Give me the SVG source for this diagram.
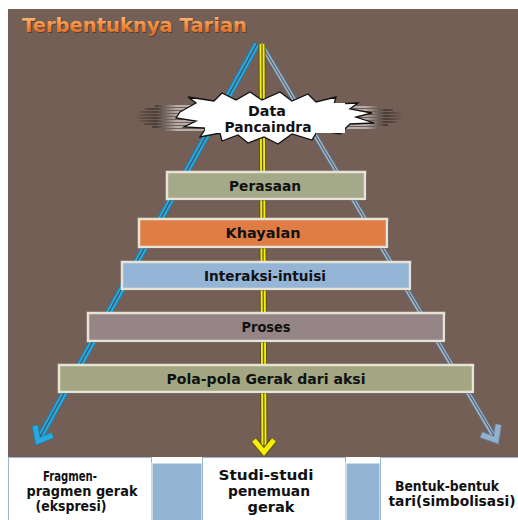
<svg xmlns="http://www.w3.org/2000/svg" width="518" height="520" viewBox="0 0 518 520">
<defs>
<style>
.lbl{font-family:"DejaVu Sans","Liberation Sans",sans-serif;font-weight:bold;font-size:14px;fill:#111;text-anchor:middle}
.box{stroke:#e6e2d6;stroke-width:2.5}
.shadow{fill:#000;opacity:0.3}
.wbox{fill:#fff;stroke:#9fb4cc;stroke-width:1}
.bbox{fill:#94b4d4;stroke:#fff;stroke-width:1}
</style>
<linearGradient id="tg" x1="0" y1="0" x2="0" y2="1">
<stop offset="0" stop-color="#fcc48c"/>
<stop offset="0.5" stop-color="#f28e40"/>
<stop offset="1" stop-color="#d9641c"/>
</linearGradient>
<linearGradient id="sl" gradientUnits="userSpaceOnUse" x1="135" y1="0" x2="205" y2="0">
<stop offset="0" stop-color="#000" stop-opacity="0"/>
<stop offset="0.3" stop-color="#111" stop-opacity="0.9"/>
<stop offset="0.6" stop-color="#fff"/>
<stop offset="1" stop-color="#fff"/>
</linearGradient>
<linearGradient id="sr" gradientUnits="userSpaceOnUse" x1="340" y1="0" x2="403" y2="0">
<stop offset="0" stop-color="#fff"/>
<stop offset="0.4" stop-color="#fff"/>
<stop offset="0.72" stop-color="#111" stop-opacity="0.9"/>
<stop offset="1" stop-color="#000" stop-opacity="0"/>
</linearGradient>
<marker id="ab" markerUnits="userSpaceOnUse" markerWidth="40" markerHeight="40" refX="0" refY="0" orient="auto" overflow="visible">
<path d="M-12,-10 L0,0 L-12,10" fill="none" stroke="#1f7fae" stroke-width="7"/>
<path d="M-12,-10 L0,0 L-12,10" fill="none" stroke="#2aa9de" stroke-width="5"/>
</marker>
<marker id="ay" markerUnits="userSpaceOnUse" markerWidth="40" markerHeight="40" refX="0" refY="0" orient="auto" overflow="visible">
<path d="M-12,-10 L0,0 L-12,10" fill="none" stroke="#5a5020" stroke-width="7"/>
<path d="M-12,-10 L0,0 L-12,10" fill="none" stroke="#f6f000" stroke-width="5"/>
</marker>
<marker id="ag" markerUnits="userSpaceOnUse" markerWidth="40" markerHeight="40" refX="0" refY="0" orient="auto" overflow="visible">
<path d="M-12,-10 L0,0 L-12,10" fill="none" stroke="#6f88a4" stroke-width="7"/>
<path d="M-12,-10 L0,0 L-12,10" fill="none" stroke="#93b0cc" stroke-width="5"/>
</marker>
</defs>
<rect x="0" y="0" width="518" height="520" fill="#fff"/>
<rect x="8" y="9" width="510" height="448" fill="#735f55"/>
<g id="title">
<text x="23" y="33" font-family="DejaVu Sans, sans-serif" font-weight="bold" font-size="19" fill="#3a2518" opacity="0.55" textLength="225" lengthAdjust="spacingAndGlyphs">Terbentuknya Tarian</text>
<text x="22" y="32" font-family="DejaVu Sans, sans-serif" font-weight="bold" font-size="19" fill="url(#tg)" textLength="225" lengthAdjust="spacingAndGlyphs">Terbentuknya Tarian</text>
</g>
<g id="connectors">
<g>
<line x1="257" y1="44" x2="38" y2="441" stroke="#1f7fae" stroke-width="7"/>
<line x1="257" y1="44" x2="38" y2="441" stroke="#2aa9de" stroke-width="5" marker-end="url(#ab)"/>
<line x1="257" y1="44" x2="40" y2="437" stroke="#3b5566" stroke-width="1.3"/>
</g>
<g>
<line x1="261" y1="44" x2="496" y2="440" stroke="#5d6e80" stroke-width="6"/>
<line x1="261" y1="44" x2="496" y2="440" stroke="#a0b6cc" stroke-width="4" marker-end="url(#ag)"/>
<line x1="261" y1="44" x2="494" y2="436" stroke="#55606c" stroke-width="1.2"/>
</g>
<g>
<line x1="262" y1="44" x2="264" y2="452" stroke="#5a5020" stroke-width="7"/>
<line x1="262" y1="44" x2="264" y2="452" stroke="#f6f000" stroke-width="5" marker-end="url(#ay)"/>
<line x1="262" y1="44" x2="264" y2="447" stroke="#6a6028" stroke-width="1.3"/>
</g>
</g>
<g id="data-pancaindra">
<g stroke="url(#sl)" stroke-width="1">
<line x1="155" y1="106" x2="205" y2="106"/>
<line x1="145" y1="109" x2="205" y2="109"/>
<line x1="138" y1="112" x2="205" y2="112"/>
<line x1="135" y1="115" x2="205" y2="115"/>
<line x1="136" y1="118" x2="205" y2="118"/>
<line x1="139" y1="121" x2="205" y2="121"/>
<line x1="144" y1="124" x2="205" y2="124"/>
<line x1="152" y1="127" x2="205" y2="127"/>
<line x1="162" y1="130" x2="205" y2="130"/>
</g>
<g stroke="url(#sr)" stroke-width="1">
<line x1="340" y1="107" x2="380" y2="107"/>
<line x1="340" y1="110" x2="393" y2="110"/>
<line x1="340" y1="113" x2="400" y2="113"/>
<line x1="340" y1="116" x2="403" y2="116"/>
<line x1="340" y1="119" x2="401" y2="119"/>
<line x1="340" y1="122" x2="396" y2="122"/>
<line x1="340" y1="125" x2="388" y2="125"/>
<line x1="340" y1="128" x2="377" y2="128"/>
</g>
<polygon points="180,112 196,103 188,97 214,101 222,93 236,100 250,92 262,100 280,92 292,101 308,94 316,102 336,97 334,104 358,103 350,109 372,113 356,117 374,123 350,124 340,134 318,130 312,140 292,134 278,144 264,137 248,143 238,135 222,141 220,133 200,137 206,128 184,127 196,121 176,118" fill="#fff" stroke="#111" stroke-width="1.3" stroke-linejoin="miter"/>
<rect x="205" y="103" width="140" height="30" fill="#fff"/>
<text class="lbl" x="267" y="116" textLength="38" lengthAdjust="spacingAndGlyphs">Data</text>
<text class="lbl" x="268" y="132" textLength="87" lengthAdjust="spacingAndGlyphs">Pancaindra</text>
</g>
<g id="perasaan">
<rect class="shadow" x="169" y="174" width="198" height="27"/>
<rect class="box" x="167" y="172" width="198" height="27" fill="#a4a98a"/>
<text class="lbl" x="265" y="191" textLength="72" lengthAdjust="spacingAndGlyphs">Perasaan</text>
</g>
<g id="khayalan">
<rect class="shadow" x="141" y="221" width="248" height="28"/>
<rect class="box" x="139" y="219" width="248" height="28" fill="#e07d45"/>
<text class="lbl" x="263" y="238" textLength="75" lengthAdjust="spacingAndGlyphs">Khayalan</text>
</g>
<g id="interaksi-intuisi">
<rect class="shadow" x="124" y="264" width="288" height="27"/>
<rect class="box" x="122" y="262" width="288" height="27" fill="#95b5d6"/>
<text class="lbl" x="265" y="281" textLength="122" lengthAdjust="spacingAndGlyphs">Interaksi-intuisi</text>
</g>
<g id="proses">
<rect class="shadow" x="90" y="315" width="356" height="28"/>
<rect class="box" x="88" y="313" width="356" height="28" fill="#958587"/>
<text class="lbl" x="266" y="332" textLength="49" lengthAdjust="spacingAndGlyphs">Proses</text>
</g>
<g id="pola-pola">
<rect class="shadow" x="61" y="367" width="414" height="27"/>
<rect class="box" x="59" y="365" width="414" height="27" fill="#a2a781"/>
<text class="lbl" x="266" y="384" textLength="199" lengthAdjust="spacingAndGlyphs">Pola-pola Gerak dari aksi</text>
</g>
<g id="fragmen">
<rect class="wbox" x="8.5" y="457.5" width="143" height="63"/>
<text class="lbl" x="70" y="481" textLength="54" lengthAdjust="spacingAndGlyphs">Fragmen-</text>
<text class="lbl" x="82" y="496" textLength="111" lengthAdjust="spacingAndGlyphs">pragmen gerak</text>
<text class="lbl" x="71" y="511" textLength="71" lengthAdjust="spacingAndGlyphs">(ekspresi)</text>
</g>
<g id="sep1">
<rect class="bbox" x="152" y="463" width="50" height="58"/>
</g>
<g id="studi">
<rect class="wbox" x="202.5" y="457.5" width="143" height="63"/>
<text class="lbl" x="266" y="480" textLength="95" lengthAdjust="spacingAndGlyphs">Studi-studi</text>
<text class="lbl" x="269" y="496" textLength="82" lengthAdjust="spacingAndGlyphs">penemuan</text>
<text class="lbl" x="271" y="512" textLength="47" lengthAdjust="spacingAndGlyphs">gerak</text>
</g>
<g id="sep2">
<rect class="bbox" x="346" y="463" width="34" height="58"/>
</g>
<g id="bentuk">
<rect class="wbox" x="380.5" y="457.5" width="138" height="63"/>
<text class="lbl" x="447" y="491" textLength="104" lengthAdjust="spacingAndGlyphs">Bentuk-bentuk</text>
<text class="lbl" x="452" y="506" textLength="127" lengthAdjust="spacingAndGlyphs">tari(simbolisasi)</text>
</g>
</svg>
